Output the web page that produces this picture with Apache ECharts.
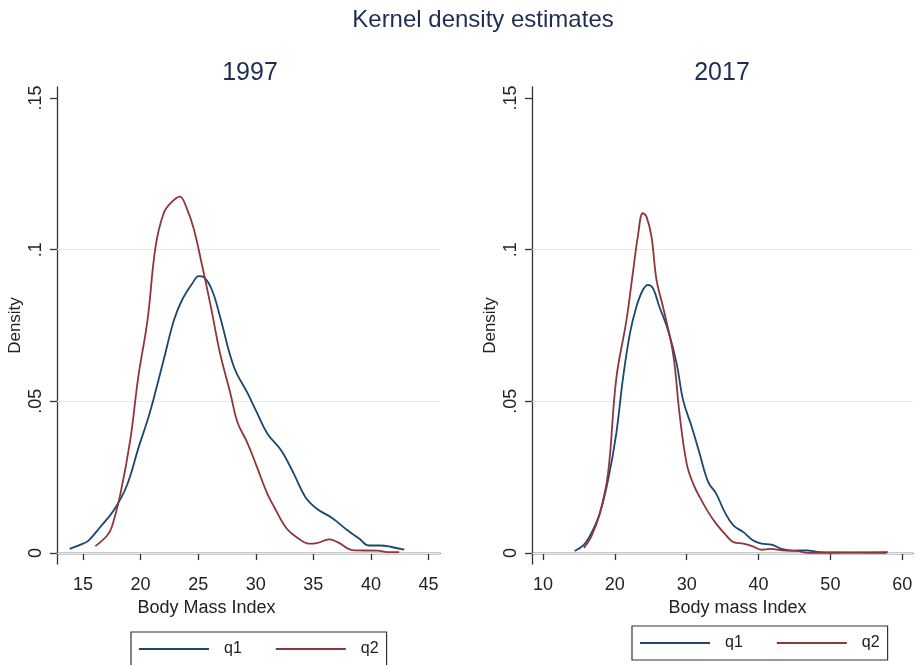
<!DOCTYPE html>
<html>
<head>
<meta charset="utf-8">
<script src="https://cdn.jsdelivr.net/npm/echarts@6/dist/echarts.min.js"></script>
<style>
html, body { margin: 0; padding: 0; background: #fff; }
#main { width: 918px; height: 665px; }
</style>
</head>
<body>
<div id="main"></div>
<script>
// 1997 panel
var bmi97_q1 = [13.84, 15, 15.5, 16.5, 17.67, 18.8, 19.8, 20.6, 21.1, 22.0, 22.9, 23.6, 24.5, 25.06, 25.5, 26.2, 26.9, 28.1, 29.3, 30, 31.0, 32.2, 33.3, 34.3, 35.3, 36.5, 37.1, 37.96, 39.0, 39.8, 40.8, 41.8, 42.9];
var den97_q1 = [0.0014, 0.0031, 0.0042, 0.0086, 0.0141, 0.0222, 0.0345, 0.0438, 0.0504, 0.0636, 0.0768, 0.0834, 0.0889, 0.0913, 0.0909, 0.0867, 0.0779, 0.0614, 0.0526, 0.0471, 0.0394, 0.0339, 0.0262, 0.0185, 0.0146, 0.0119, 0.0102, 0.0075, 0.0047, 0.0025, 0.0025, 0.002, 0.0011];
var bmi97_q2 = [16.07, 17.1, 17.5, 18.25, 19.1, 19.8, 20.6, 21.3, 22.0, 22.6, 23.4, 24.0, 24.6, 25.3, 26.1, 26.9, 27.8, 28.4, 29.3, 30.1, 31.0, 31.6, 32.7, 33.75, 34.6, 35.3, 36.4, 37.1, 38.5, 40.6, 41.4, 42.45];
var den97_q2 = [0.0023, 0.0058, 0.0086, 0.0196, 0.0372, 0.0581, 0.0768, 0.101, 0.112, 0.1153, 0.1175, 0.1137, 0.1071, 0.0955, 0.0812, 0.0658, 0.0526, 0.0432, 0.0361, 0.0284, 0.0196, 0.0152, 0.008, 0.0047, 0.0031, 0.0033, 0.0045, 0.0036, 0.0009, 0.0008, 0.0003, 0.0003];

// 2017 panel
var bmi17_q1 = [14.4, 15.6, 16.7, 17.9, 19.05, 20.2, 21.1, 22.1, 23.0, 23.9, 24.6, 25.3, 26.2, 27.4, 28.6, 29.5, 30.7, 31.8, 33.0, 34.1, 35.3, 36.5, 37.9, 39.2, 40.4, 41.8, 43.2, 44.8, 46.7, 48.5, 51.8, 57.8];
var den17_q1 = [0.0007, 0.0025, 0.0064, 0.013, 0.024, 0.0394, 0.057, 0.0724, 0.0812, 0.0867, 0.0884, 0.0873, 0.0812, 0.0735, 0.0625, 0.0504, 0.0416, 0.0328, 0.0234, 0.0196, 0.0135, 0.0091, 0.0069, 0.0042, 0.0031, 0.0028, 0.0014, 0.0008, 0.0009, 0.0003, 0.0002, 0.0001];
var bmi17_q2 = [15.7, 16.7, 17.9, 19.05, 20.2, 21.6, 22.5, 23.2, 23.9, 24.4, 25.1, 25.8, 26.7, 28.1, 29.0, 30.0, 30.9, 31.8, 33.0, 34.1, 35.5, 36.5, 37.9, 39.2, 40.4, 41.6, 43.4, 45.3, 46.9, 49.5, 54.1, 58.0];
var den17_q2 = [0.0017, 0.0053, 0.013, 0.0262, 0.0575, 0.0765, 0.0922, 0.1043, 0.112, 0.1109, 0.1043, 0.09, 0.0812, 0.0658, 0.046, 0.0295, 0.0229, 0.0185, 0.0135, 0.0097, 0.0058, 0.0036, 0.0031, 0.0022, 0.0011, 0.0014, 0.0009, 0.0007, 0.0001, 0.0001, 0.0002, 0.0003];

var yTicks = [0, 0.05, 0.1, 0.15];
var yLabels = ['0', '.05', '.1', '.15'];
var xTicks97 = [15, 20, 25, 30, 35, 40, 45];
var xTicks17 = [10, 20, 30, 40, 50, 60];
var gridValues = [0, 0.05, 0.1];

var BLUE = '#1a476f', RED = '#90353b', AXIS = '#333';
var FONT = '"Liberation Sans", Arial, sans-serif';

function pairs(xs, ys) {
	var out = [];
	for (var i = 0; i < xs.length; i++) out.push([xs[i], ys[i]]);
	return out;
}

function xAxisOpt(idx, name, min, max, ticks, pad) {
	return {
		type: 'value', gridIndex: idx, min: min, max: max,
		name: name, nameLocation: 'middle', nameGap: 35,
		nameTextStyle: { color: '#222', fontSize: 18, fontFamily: FONT, padding: pad },
		axisLine: { lineStyle: { color: AXIS, width: 1.3 } },
		axisTick: { show: true, length: 7, customValues: ticks, lineStyle: { color: AXIS, width: 1.3 } },
		axisLabel: { customValues: ticks, margin: 12, color: '#222', fontSize: 18, fontFamily: FONT },
		splitLine: { show: false }
	};
}

function yAxisOpt(idx) {
	return {
		type: 'value', gridIndex: idx, min: -0.0036, max: 0.1536,
		name: 'Density', nameLocation: 'middle', nameGap: 33,
		nameTextStyle: { color: '#222', fontSize: 17, fontFamily: FONT },
		axisLine: { show: true, lineStyle: { color: AXIS, width: 1.3 } },
		axisTick: { show: true, length: 7, customValues: yTicks, lineStyle: { color: AXIS, width: 1.3 } },
		axisLabel: {
			customValues: yTicks, rotate: 90, margin: 12, color: '#222', fontSize: 18, fontFamily: FONT,
			formatter: function(v) { return yLabels[yTicks.indexOf(Math.round(v * 100) / 100)]; }
		},
		splitLine: { show: false }
	};
}

function lineSeries(name, idx, data, color, withGrid) {
	var s = {
		name: name, type: 'line', xAxisIndex: idx, yAxisIndex: idx,
		data: data, smooth: 0.4, showSymbol: false, symbol: 'none',
		lineStyle: { color: color, width: 1.8 }, itemStyle: { color: color },
		z: 3
	};
	if (withGrid) {
		s.markLine = {
			silent: true, symbol: 'none', label: { show: false },
			lineStyle: { color: '#dde9ec', width: 1.2, type: 'solid' },
			data: gridValues.map(function(v) { return { yAxis: v }; }),
			z: 1
		};
	}
	return s;
}

function legendOpt(left, top) {
	return {
		data: ['q1', 'q2'], left: left, top: top, icon: 'rect',
		itemWidth: 70, itemHeight: 2, itemGap: 34,
		padding: [9, 8, 9, 8],
		borderColor: '#333', borderWidth: 1.2,
		textStyle: { color: '#222', fontSize: 16, fontFamily: FONT, padding: [0, 0, 0, 10] },
		selectedMode: false
	};
}

var chart = echarts.init(document.getElementById('main'), null, { renderer: 'canvas' });

var option = {
	backgroundColor: '#fff',
	animation: false,
	title: [
		{ text: 'Kernel density estimates', left: 478, top: 3, textAlign: 'center',
		  textStyle: { color: '#1e2d53', fontSize: 24, fontWeight: 'normal', fontFamily: FONT } },
		{ text: '1997', left: 245, top: 56, textAlign: 'center',
		  textStyle: { color: '#1e2d53', fontSize: 25, fontWeight: 'normal', fontFamily: FONT } },
		{ text: '2017', left: 717, top: 56, textAlign: 'center',
		  textStyle: { color: '#1e2d53', fontSize: 25, fontWeight: 'normal', fontFamily: FONT } }
	],
	legend: [legendOpt(131, 632), legendOpt(632, 626)],
	grid: [
		{ left: 57, right: 478, top: 87, bottom: 101 },
		{ left: 532, right: 5, top: 87, bottom: 101 }
	],
	xAxis: [
		xAxisOpt(0, 'Body Mass Index', 12.74, 46.0, xTicks97, [0, 84, 0, 0]),
		xAxisOpt(1, 'Body mass Index', 8.47, 61.5, xTicks17, [0, 0, 0, 30])
	],
	yAxis: [yAxisOpt(0), yAxisOpt(1)],
	series: [
		lineSeries('q1', 0, pairs(bmi97_q1, den97_q1), BLUE, true),
		lineSeries('q2', 0, pairs(bmi97_q2, den97_q2), RED, false),
		lineSeries('q1', 1, pairs(bmi17_q1, den17_q1), BLUE, true),
		lineSeries('q2', 1, pairs(bmi17_q2, den17_q2), RED, false)
	]
};

chart.setOption(option);
</script>
</body>
</html>
